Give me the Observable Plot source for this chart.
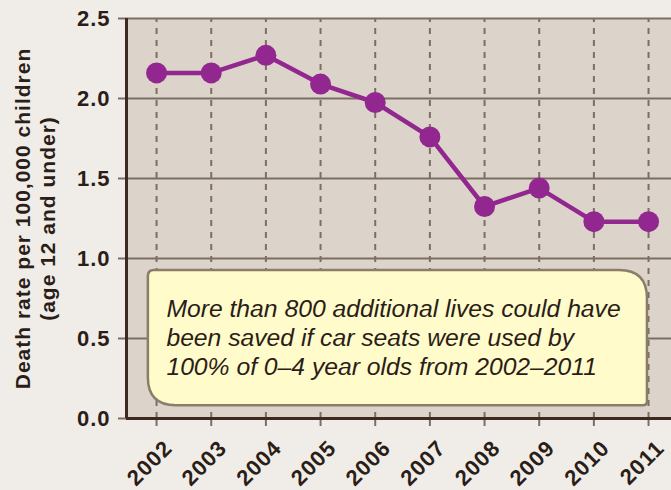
<!DOCTYPE html>
<html><head><meta charset="utf-8">
<script src="https://cdn.jsdelivr.net/npm/d3@7"></script>
<script src="https://cdn.jsdelivr.net/npm/@observablehq/plot@0.6"></script>
<style>
html,body{margin:0;padding:0;background:#f0ede8;}
g[aria-label="x-axis tick"] path, g[aria-label="y-axis tick"] path{stroke:#7d6e63;stroke-width:2px;}
g[aria-label="y-axis tick label"]{letter-spacing:1px;}
g[aria-description="ytitle"], g[aria-description="xlabels"]{letter-spacing:1px;}
</style>
</head><body><div id="chart"></div>
<script>
const years = [2002,2003,2004,2005,2006,2007,2008,2009,2010,2011];
const rates = [2.16,2.16,2.27,2.09,1.975,1.76,1.325,1.44,1.23,1.23];
const yTicks = [0,0.5,1,1.5,2,2.5];
const yTitle = "Death rate per 100,000 children\n(age 12 and under)";
const note = "More than 800 additional lives could have\nbeen saved if car seats were used by\n100% of 0–4 year olds from 2002–2011";
const xDomain = [2001.45, 2011.42];
const boxX = [2001.85, 2010.98];
const boxY = [0.08, 0.925];
const noteX = 2002.18, noteY = 0.51;

const data = years.map((y,i)=>({year:y, rate:rates[i]}));

function callout(index, scales) {
  const x0 = scales.x(boxX[0]), x1 = scales.x(boxX[1]);
  const y0 = scales.y(boxY[1]), y1 = scales.y(boxY[0]);
  const rs = 6, rl = 28, rb = 4;
  const d = `M${x0+rs},${y0} L${x1-rl},${y0} Q${x1},${y0} ${x1},${y0+rl} L${x1},${y1-rb} Q${x1},${y1} ${x1-rb},${y1} L${x0+rl},${y1} Q${x0},${y1} ${x0},${y1-rl} L${x0},${y0+rs} Q${x0},${y0} ${x0+rs},${y0} Z`;
  const p = document.createElementNS("http://www.w3.org/2000/svg","path");
  p.setAttribute("d", d);
  p.setAttribute("fill", "#fffbcb");
  p.setAttribute("stroke", "#8c7d6a");
  p.setAttribute("stroke-width", "2.5");
  return p;
}

const chart = Plot.plot({
  width: 671, height: 490,
  marginLeft: 126, marginTop: 18, marginBottom: 72, marginRight: 0,
  style: {background:"#f0ede8", fontFamily:"'Liberation Sans', Arial, sans-serif", fontSize:"22px", fontWeight:"bold", color:"#2b1d17", overflow:"visible"},
  x: {type:"linear", domain:xDomain, ticks:years, tickFormat:()=>"", tickSize:8, label:null},
  y: {domain:[0,2.5], ticks:yTicks, tickFormat:d=>d.toFixed(1), tickSize:8, tickPadding:8, label:null},
  marks: [
    Plot.frame({fill:"#dcd4cb", stroke:null}),
    Plot.ruleX(years, {y1:0, y2:2.5, stroke:"#7d6e63", strokeWidth:2, strokeDasharray:"6,6"}),
    Plot.ruleY(yTicks, {stroke:"#7d6e63", strokeWidth:2}),
    Plot.ruleX([xDomain[0]], {stroke:"#3c2a20", strokeWidth:3}),
    Plot.ruleY([0], {stroke:"#3c2a20", strokeWidth:3}),
    Plot.line(data, {x:"year", y:"rate", stroke:"#92278f", strokeWidth:4.5}),
    Plot.dot(data, {x:"year", y:"rate", fill:"#92278f", r:10.5}),
    callout,
    Plot.text([note], {x:noteX, y:noteY, text:d=>d, textAnchor:"start", lineAnchor:"middle", lineHeight:1.18, fontSize:24.7, fontStyle:"italic", fontWeight:"normal", fontFamily:"'Liberation Sans', sans-serif", fill:"#2b1d17"}),
    Plot.text(years, {x:d=>d, y:0, text:d=>String(d), rotate:-45, textAnchor:"end", lineAnchor:"middle", dx:12, dy:26, fontSize:22, fontWeight:"bold", fill:"#2b1d17", ariaDescription:"xlabels"}),
    Plot.text([yTitle], {frameAnchor:"left", text:d=>d, rotate:-90, dx:-92, textAnchor:"middle", fontSize:21, fontWeight:"bold", lineHeight:1.2, fill:"#2b1d17", ariaDescription:"ytitle"})
  ]
});
document.getElementById("chart").appendChild(chart);
</script>
</body></html>
